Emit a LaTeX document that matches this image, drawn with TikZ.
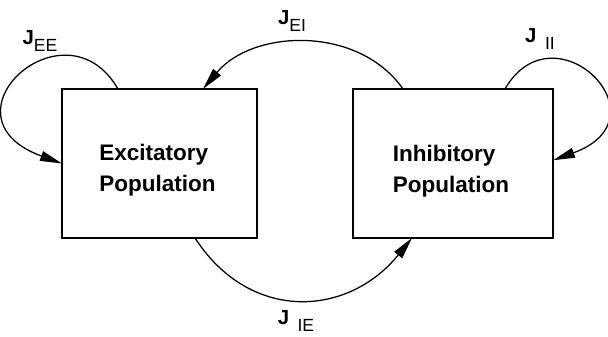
\documentclass[tikz,border=0pt]{standalone}
\usepackage{fontspec}
\setmainfont{Liberation Sans}
\usepackage{tikz}
\usetikzlibrary{arrows.meta}

\newcommand{\Jsub}[2][0pt]{\textbf{J}\hspace{#1}\raisebox{-4.5pt}{\fontsize{12.5}{14}\selectfont #2}}

\begin{document}
\begin{tikzpicture}[>={Triangle[length=5.5mm,width=2.5mm]},
  pop/.style={rectangle,draw,line width=1pt,inner sep=0pt,outer sep=0pt,minimum height=3.725cm},
  poptext/.style={align=left,font=\fontsize{16}{22}\selectfont\bfseries},
  conn/.style={->,line width=0.9pt},
  jlab/.style={inner sep=1pt,font=\fontsize{14.5}{16}\selectfont}]
  \useasboundingbox (0,0) rectangle (15.2,8.425);
  % the two populations
  \node[pop,minimum width=4.875cm] (exc) at (3.9875,4.3375) {};
  \node[pop,minimum width=5.0cm] (inh) at (11.325,4.3375) {};
  \node[poptext] (exctext) at ([shift={(-0.05,-0.16)}]exc.center) {Excitatory\\Population};
  \node[poptext] (inhtext) at ([shift={(-0.05,-0.2)}]inh.center) {Inhibitory\\Population};
  % couplings
  \draw[conn] ([xshift=1.4cm]exc.north west) .. controls +(120:2.65) and +(160:3.4) .. (exc.west);
  \draw[conn] ([xshift=-1.2cm]inh.north east) .. controls +(60:2.45) and +(20:3.1) .. ([yshift=0.08cm]inh.east);
  \draw[conn] ([xshift=1.25cm]inh.north west) to[out=125,in=50] ([xshift=-1.35cm]exc.north east);
  \draw[conn] ([xshift=-1.55cm]exc.south east) to[out=-57,in=-129,looseness=1.2] ([xshift=1.475cm]inh.south west);
  % labels
  \node[jlab] (jee) at (1.0,7.4) {\Jsub{EE}};
  \node[jlab] (jei) at (7.3,7.9) {\Jsub{EI}};
  \node[jlab] (jii) at (13.5,7.45) {\Jsub[6pt]{II}};
  \node[jlab] (jie) at (7.4,0.4) {\Jsub[6pt]{IE}};
\end{tikzpicture}
\end{document}
